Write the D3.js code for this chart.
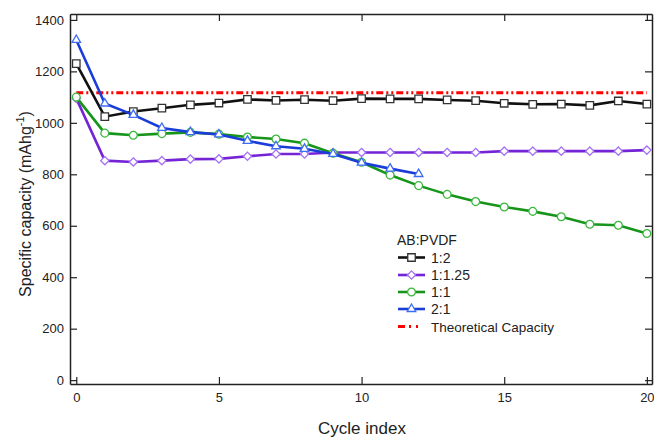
<!DOCTYPE html>
<html>
<head>
<meta charset="utf-8">
<script src="https://cdn.jsdelivr.net/npm/d3@7"></script>
<style>
  body { margin: 0; background: #fff; }
  text { font-family: "Liberation Sans", Arial, sans-serif; fill: #222; }
</style>
</head>
<body>
<div id="chart"></div>
<script>
// data
const cycles = [0, 1, 2, 3, 4, 5, 6, 7, 8, 9, 10, 11, 12, 13, 14, 15, 16, 17, 18, 19, 20];
const cap1to2 = [1230, 1024, 1044, 1057, 1070, 1077, 1091, 1087, 1090, 1086, 1094, 1093, 1093, 1089, 1086, 1076, 1072, 1073, 1068, 1085, 1073];
const cap1to125 = [1095, 853, 848, 853, 859, 860, 870, 879, 879, 885, 885, 885, 885, 885, 885, 890, 890, 890, 890, 890, 894];
const cap1to1 = [1100, 960, 952, 958, 963, 956, 945, 937, 921, 882, 847, 797, 756, 722, 694, 673, 656, 635, 606, 602, 570];
const cap2to1 = [1322, 1075, 1031, 980, 964, 955, 930, 909, 899, 879, 845, 822, 801];
const theoretical = 1117;
const seriesNames = ["1:2", "1:1.25", "1:1", "2:1"];
const xTicks = [0, 5, 10, 15, 20];
const yTicks = [0, 200, 400, 600, 800, 1000, 1200, 1400];

const width = 654,
  height = 437;
const margin = { top: 14, right: 2, bottom: 53, left: 70 };

const svg = d3
  .select("#chart")
  .append("svg")
  .attr("width", width)
  .attr("height", height);

const x = d3
  .scaleLinear()
  .domain([-0.22, 20.18])
  .range([margin.left, width - margin.right]);
const y = d3
  .scaleLinear()
  .domain([-15, 1423])
  .range([height - margin.bottom, margin.top]);

// diamond as a rotated square (d3's diamond is too tall)
const squareDiamond = {
  draw(context, size) {
    const r = Math.sqrt(size / 2);
    context.moveTo(0, -r);
    context.lineTo(r, 0);
    context.lineTo(0, r);
    context.lineTo(-r, 0);
    context.closePath();
  },
};

// series styles
const styles = [
  { line: "#111", mark: "#333", symbol: d3.symbolSquare, size: 56 },
  { line: "#7424d6", mark: "#a472f2", symbol: squareDiamond, size: 34 },
  { line: "#16951a", mark: "#3bb83e", symbol: d3.symbolCircle, size: 48 },
  { line: "#1a3dd8", mark: "#3f6cf2", symbol: d3.symbolTriangle, size: 32 },
];
const values = [cap1to2, cap1to125, cap1to1, cap2to1];

// axes: frame with inward ticks
const axisStyle = (g) => {
  g.select(".domain").attr("stroke", "#222").attr("stroke-width", 1.5);
  g.selectAll(".tick line").attr("stroke", "#222").attr("stroke-width", 1.2);
  g.selectAll("text").attr("font-size", 13).attr("fill", "#222");
};

svg
  .append("g")
  .attr("transform", `translate(${margin.left},0)`)
  .call(d3.axisLeft(y).tickValues(yTicks).tickSizeInner(-7).tickSizeOuter(0).tickPadding(6).tickFormat(d3.format("d")))
  .call(axisStyle);
svg
  .append("g")
  .attr("transform", `translate(${width - margin.right},0)`)
  .call(d3.axisRight(y).tickValues(yTicks).tickSizeInner(-7).tickSizeOuter(0).tickFormat(""))
  .call(axisStyle);
svg
  .append("g")
  .attr("transform", `translate(0,${height - margin.bottom})`)
  .call(d3.axisBottom(x).tickValues(xTicks).tickSizeInner(-7).tickSizeOuter(0).tickPadding(9).tickFormat(d3.format("d")))
  .call(axisStyle);
svg
  .append("g")
  .attr("transform", `translate(0,${margin.top})`)
  .call(d3.axisTop(x).tickValues(xTicks).tickSizeInner(-7).tickSizeOuter(0).tickFormat(""))
  .call(axisStyle);

// axis titles
svg
  .append("text")
  .attr("x", 362)
  .attr("y", 434)
  .attr("text-anchor", "middle")
  .attr("font-size", 17)
  .text("Cycle index");

const yTitle = svg
  .append("text")
  .attr("transform", "translate(31,204) rotate(-90)")
  .attr("text-anchor", "middle")
  .attr("font-size", 16);
yTitle.append("tspan").text("Specific capacity (mAhg");
yTitle.append("tspan").attr("font-size", 11).attr("dy", -7).text("-1");
yTitle.append("tspan").attr("dy", 7).text(")");

// theoretical capacity line
svg
  .append("line")
  .attr("x1", x(0))
  .attr("x2", x(20))
  .attr("y1", y(theoretical))
  .attr("y2", y(theoretical))
  .attr("stroke", "#ff0000")
  .attr("stroke-width", 3)
  .attr("stroke-dasharray", "7,3,2,3,2,3");

const line = d3
  .line()
  .x((d) => x(d[0]))
  .y((d) => y(d[1]));

// lines and markers
values.forEach((vals, i) => {
  const pts = vals.map((v, j) => [cycles[j], v]);
  const s = styles[i];
  svg
    .append("path")
    .attr("fill", "none")
    .attr("stroke", s.line)
    .attr("stroke-width", 2.6)
    .attr("d", line(pts));
  svg
    .append("g")
    .selectAll("path")
    .data(pts)
    .join("path")
    .attr("transform", (d) => `translate(${x(d[0])},${y(d[1])})`)
    .attr("d", d3.symbol(s.symbol, s.size))
    .attr("fill", "#fff")
    .attr("stroke", s.mark)
    .attr("stroke-width", 1.3);
});

// legend
const legend = svg.append("g").attr("transform", "translate(397,0)");
legend
  .append("text")
  .attr("x", 0)
  .attr("y", 245)
  .attr("font-size", 14)
  .text("AB:PVDF");

const rowY = [257.5, 275, 292, 309];
seriesNames.forEach((name, i) => {
  const s = styles[i];
  legend
    .append("line")
    .attr("x1", 1)
    .attr("x2", 28)
    .attr("y1", rowY[i])
    .attr("y2", rowY[i])
    .attr("stroke", s.line)
    .attr("stroke-width", 2.6);
  legend
    .append("path")
    .attr("transform", `translate(14.5,${rowY[i]})`)
    .attr("d", d3.symbol(s.symbol, s.size))
    .attr("fill", "#fff")
    .attr("stroke", s.mark)
    .attr("stroke-width", 1.3);
  legend
    .append("text")
    .attr("x", 34)
    .attr("y", rowY[i] + 5)
    .attr("font-size", 14)
    .text(name);
});
legend
  .append("line")
  .attr("x1", 1)
  .attr("x2", 28)
  .attr("y1", 326.5)
  .attr("y2", 326.5)
  .attr("stroke", "#ff0000")
  .attr("stroke-width", 3)
  .attr("stroke-dasharray", "7,4,2,5,2,20");
legend
  .append("text")
  .attr("x", 34)
  .attr("y", 331.5)
  .attr("font-size", 13.5)
  .text("Theoretical Capacity");
</script>
</body>
</html>
